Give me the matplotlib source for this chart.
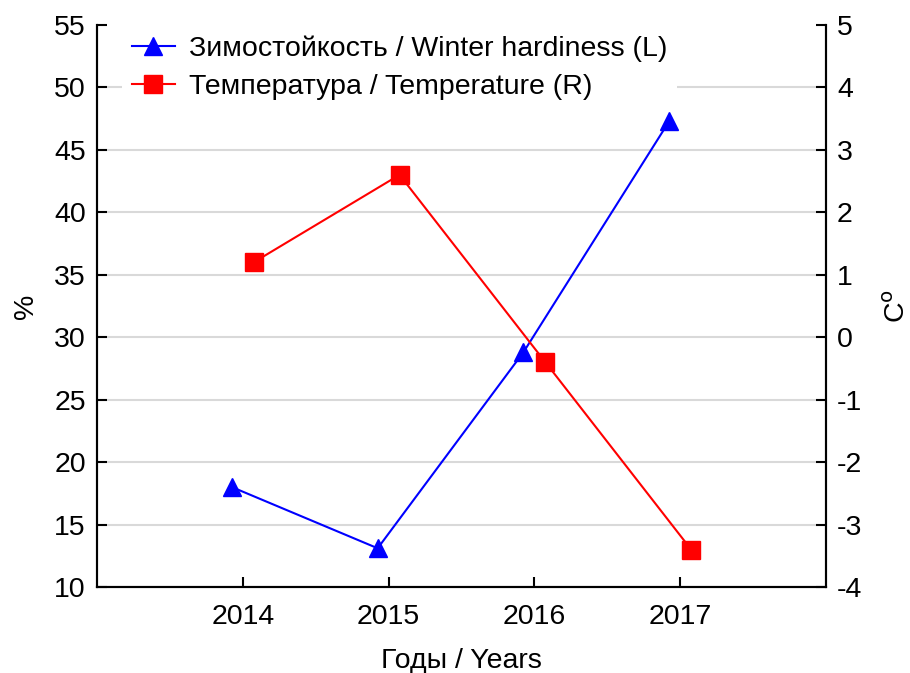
import matplotlib
matplotlib.use('Agg')
import matplotlib.pyplot as plt
import numpy as np

plt.rcParams['font.family'] = ['Liberation Sans', 'DejaVu Sans']
plt.rcParams['font.size'] = 20.5
plt.rcParams['axes.unicode_minus'] = False

# data
years = [2014, 2015, 2016, 2017]
hardiness = [18.0, 13.1, 28.8, 47.3]      # % (left axis)
temperature = [1.2, 2.6, -0.4, -3.4]      # C (right axis)

fig = plt.figure(figsize=(9.1, 6.73), dpi=100)
ax = fig.add_axes([0.1066, 0.1278, 0.8011, 0.8351])
ax2 = ax.twinx()

x = np.array(years, dtype=float)
l1, = ax.plot(x - 0.075, hardiness, color='blue', lw=1.5, marker='^',
              markersize=13, label='Зимостойкость / Winter hardiness (L)')
l2, = ax2.plot(x + 0.075, temperature, color='red', lw=1.5, marker='s',
               markersize=12.5, label='Температура / Temperature (R)')

ax.set_xlim(2013, 2018)
ax.set_ylim(10, 55)
ax2.set_ylim(-4, 5)
ax.set_xticks(years)
ax.set_yticks(np.arange(10, 56, 5))
ax2.set_yticks(np.arange(-4, 6, 1))

ax.grid(axis='y', color='#d9d9d9', lw=1.5, zorder=0)
ax.set_axisbelow(True)
ax.get_ygridlines()[-1].set_visible(False)

for a in (ax, ax2):
    a.spines['top'].set_visible(False)
    for s in a.spines.values():
        s.set_linewidth(1.5)
    a.tick_params(direction='in', length=7, width=1.5, pad=8)
ax.tick_params(axis='x', pad=12)

ax.set_xlabel('Годы / Years', labelpad=13)
ax.set_ylabel('%', labelpad=11)
ax2.set_ylabel('C$^\\mathrm{o}$', labelpad=16)

leg = ax2.legend(handles=[l1, l2], loc='upper left', bbox_to_anchor=(0.015, 1.025),
                 frameon=True, fancybox=False, edgecolor='none', facecolor='white',
                 framealpha=1, handlelength=1.5, handletextpad=0.5,
                 labelspacing=0.42, borderpad=0.35)

fig.savefig('out.png', dpi=100, facecolor='w')
